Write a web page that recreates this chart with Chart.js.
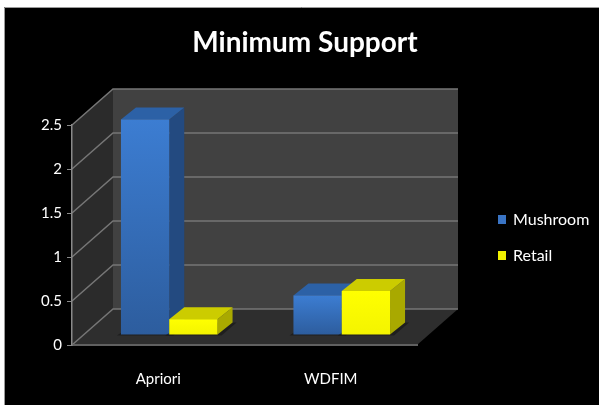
<!DOCTYPE html>
<html>
<head>
<meta charset="utf-8">
<script src="https://cdn.jsdelivr.net/npm/chart.js@4/dist/chart.umd.min.js"></script>
<style>
  html, body { margin: 0; padding: 0; background: #fff; }
  #wrap { width: 599px; height: 405px; }
</style>
</head>
<body>
<div id="wrap"><canvas id="myChart" width="599" height="405"></canvas></div>
<script>
var chartTitle = 'Minimum Support'
var categories = ['Apriori', 'WDFIM']
var mushroom = [2.45, 0.45]
var retail = [0.18, 0.5]
var yTicks = [0, 0.5, 1, 1.5, 2, 2.5]

// depth of the back wall and of each bar (fake 3d)
var DX = 41, DY = -36
var BX = 11, BY = -10
var BDX = 15, BDY = -12

var faces = [
  { top: '#2c61a6', side: '#234a80', front1: '#3c7dd2', front2: '#2d5d9e', key: '#3a74c4' },
  { top: '#cccc00', side: '#a9a900', front1: '#ffff00', front2: '#f4f400', key: '#f0f000' }
]

var font = 'Lato, "Open Sans", sans-serif'

var box3d = {
  id: 'box3d',
  beforeDraw: function (chart) {
    var ctx = chart.ctx
    var a = chart.chartArea
    var y = chart.scales.y
    ctx.save()
    ctx.fillStyle = '#ffffff'
    ctx.fillRect(0, 0, chart.width, chart.height)
    ctx.fillStyle = '#000000'
    ctx.fillRect(4, 7, chart.width - 4, chart.height - 7)
    ctx.strokeStyle = '#9a9a9a'
    ctx.lineWidth = 1
    ctx.beginPath()
    ctx.moveTo(4.5, chart.height); ctx.lineTo(4.5, 7.5); ctx.lineTo(chart.width, 7.5)
    ctx.stroke()

    var top = y.getPixelForValue(2.5)
    var bot = y.getPixelForValue(0)
    // side wall
    ctx.fillStyle = '#2b2b2b'
    ctx.beginPath()
    ctx.moveTo(a.left, bot); ctx.lineTo(a.left + DX, bot + DY)
    ctx.lineTo(a.left + DX, top + DY); ctx.lineTo(a.left, top)
    ctx.closePath(); ctx.fill()
    // back wall
    ctx.fillStyle = '#414141'
    ctx.fillRect(a.left + DX, top + DY, a.right - a.left, bot - top)
    // floor
    ctx.fillStyle = '#2e2e2e'
    ctx.beginPath()
    ctx.moveTo(a.left, bot); ctx.lineTo(a.right, bot)
    ctx.lineTo(a.right + DX, bot + DY); ctx.lineTo(a.left + DX, bot + DY)
    ctx.closePath(); ctx.fill()

    ctx.strokeStyle = '#767676'
    ctx.lineWidth = 1.5
    yTicks.forEach(function (v) {
      var py = y.getPixelForValue(v)
      ctx.beginPath()
      ctx.moveTo(a.left, py)
      ctx.lineTo(a.left + DX, py + DY)
      ctx.lineTo(a.right + DX, py + DY)
      ctx.stroke()
    })
    ctx.restore()
  },
  afterDatasetsDraw: function (chart) {
    var ctx = chart.ctx
    ctx.save()
    categories.forEach(function (c, j) {
      chart.data.datasets.forEach(function (ds, i) {
        var el = chart.getDatasetMeta(i).data[j]
        var p = el.getProps(['x', 'y', 'base', 'width'], true)
        var f = faces[i]
        var x0 = p.x - p.width / 2 + BX
        var x1 = x0 + p.width
        var yt = p.y + BY
        var yb = p.base + BY

        // soft shadow on the floor
        ctx.fillStyle = 'rgba(0,0,0,0.35)'
        ctx.beginPath()
        ctx.moveTo(x0 - 4, yb + 1); ctx.lineTo(x1 + 4, yb + 1)
        ctx.lineTo(x1 + BDX + 4, yb + BDY); ctx.lineTo(x0 + BDX, yb + BDY)
        ctx.closePath(); ctx.fill()

        ctx.fillStyle = f.side
        ctx.beginPath()
        ctx.moveTo(x1, yb); ctx.lineTo(x1 + BDX, yb + BDY)
        ctx.lineTo(x1 + BDX, yt + BDY); ctx.lineTo(x1, yt)
        ctx.closePath(); ctx.fill()

        ctx.fillStyle = f.top
        ctx.beginPath()
        ctx.moveTo(x0, yt); ctx.lineTo(x1, yt)
        ctx.lineTo(x1 + BDX, yt + BDY); ctx.lineTo(x0 + BDX, yt + BDY)
        ctx.closePath(); ctx.fill()

        var g = ctx.createLinearGradient(0, yt, 0, yb)
        g.addColorStop(0, f.front1)
        g.addColorStop(1, f.front2)
        ctx.fillStyle = g
        ctx.fillRect(x0, yt, p.width, yb - yt)
      })
    })
    ctx.restore()
  },
  afterDraw: function (chart) {
    var ctx = chart.ctx
    ctx.save()
    ctx.fillStyle = '#ffffff'
    ctx.textAlign = 'center'
    ctx.textBaseline = 'middle'
    ctx.font = 'bold 28px ' + font
    ctx.fillText(chartTitle, 305, 43)

    ctx.textAlign = 'left'
    ctx.font = '16px ' + font
    chart.data.datasets.forEach(function (ds, i) {
      var ly = 219 + i * 36
      ctx.fillStyle = faces[i].key
      ctx.fillRect(498, ly - 4, 8, 9)
      ctx.fillStyle = '#ffffff'
      ctx.fillText(ds.label, 513, ly + 1)
    })
    ctx.restore()
  }
}

var data = {
  labels: categories,
  datasets: [
    { label: 'Mushroom', data: mushroom, backgroundColor: 'transparent' },
    { label: 'Retail', data: retail, backgroundColor: 'transparent' }
  ]
}

var config = {
  type: 'bar',
  data: data,
  options: {
    responsive: false,
    animation: false,
    layout: { padding: { top: 125, left: 0, right: 182, bottom: 0 } },
    datasets: { bar: { categoryPercentage: 0.56, barPercentage: 1.0 } },
    plugins: { legend: { display: false }, title: { display: false }, tooltip: { enabled: false } },
    scales: {
      x: {
        grid: { display: false, drawTicks: false },
        border: { display: true, color: '#606060', width: 2 },
        ticks: { color: '#ffffff', padding: 25, font: { family: font, size: 15 } },
        afterFit: function (s) { s.height = 60 }
      },
      y: {
        min: 0,
        max: 2.5,
        afterBuildTicks: function (s) { s.ticks = yTicks.map(function (v) { return { value: v } }) },
        grid: { drawOnChartArea: false, drawTicks: true, tickLength: 5, color: '#8a8a8a' },
        border: { display: true, color: '#8a8a8a', width: 1.5 },
        ticks: {
          color: '#ffffff', padding: 5, font: { family: font, size: 15 },
          callback: function (v) { return String(v) }
        },
        afterFit: function (s) { s.width = 72 }
      }
    }
  },
  plugins: [box3d]
}

var myChart = new Chart(document.getElementById('myChart'), config)
</script>
</body>
</html>
